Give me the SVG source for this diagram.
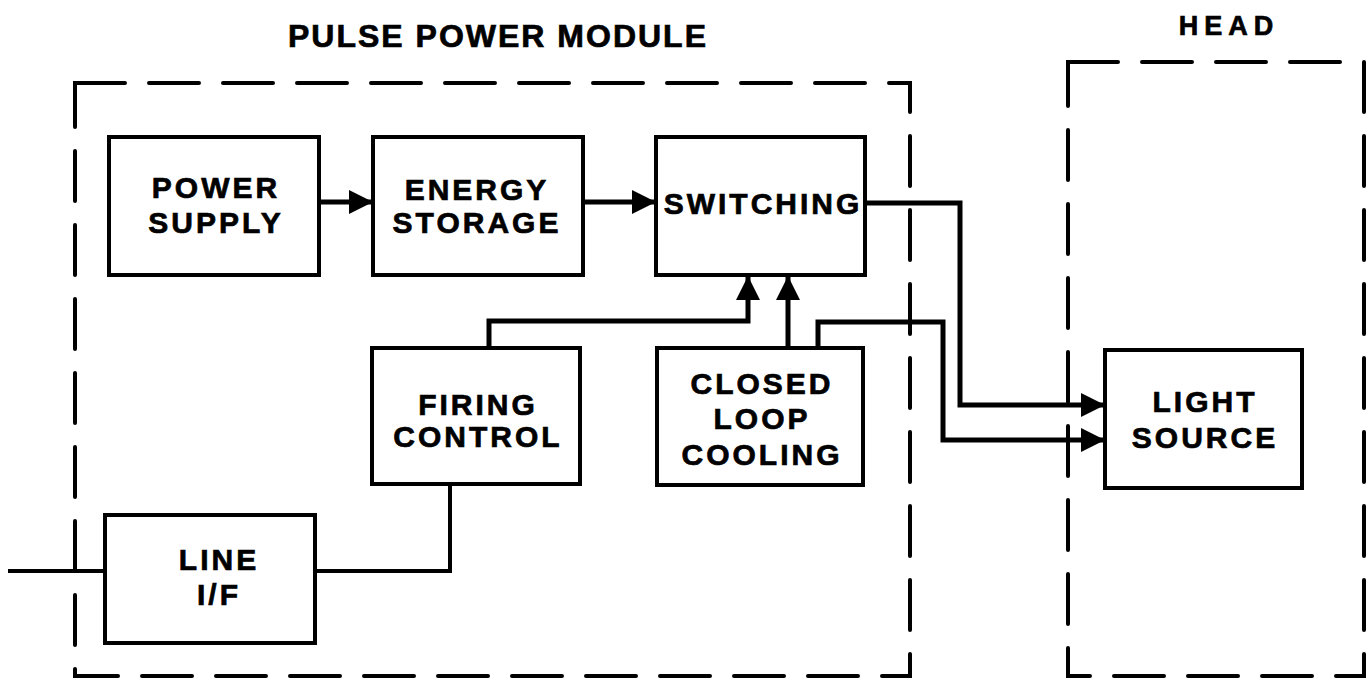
<svg xmlns="http://www.w3.org/2000/svg" width="1370" height="679" viewBox="0 0 1370 679">
<style>
  .box { fill: #fff; stroke: #000; stroke-width: 4; }
  .grp { fill: none; stroke: #000; stroke-width: 4; stroke-dasharray: 50 24; stroke-linecap: round; }
  .lbl { font-family: "Liberation Sans", Arial, sans-serif; font-weight: bold; font-size: 30px; letter-spacing: 3px; fill: #000; stroke: #000; stroke-width: 0.7; text-anchor: middle; }
  .title { font-family: "Liberation Sans", Arial, sans-serif; font-weight: bold; fill: #000; stroke: #000; stroke-width: 0.7; }
  .wire { fill: none; stroke: #000; stroke-width: 5; stroke-linejoin: miter; }
  .thin { fill: none; stroke: #000; stroke-width: 4; }
</style>
<defs>
  <marker id="ah" markerUnits="userSpaceOnUse" markerWidth="26" markerHeight="24" refX="24" refY="12" orient="auto">
    <path d="M0,0 L24,12 L0,24 z" fill="#000"/>
  </marker>
</defs>
<rect width="1370" height="679" fill="#fff"/>

<g id="pulse-power-module">
  <rect class="grp" x="75" y="83" width="835" height="593"/>
  <text class="title" x="498" y="47" font-size="32" letter-spacing="2" text-anchor="middle">PULSE POWER MODULE</text>
</g>
<g id="head">
  <rect class="grp" x="1068" y="62" width="296" height="614"/>
  <text class="title" x="1229" y="35" font-size="27" letter-spacing="6" text-anchor="middle">HEAD</text>
</g>

<g id="connectors">
  <line class="wire" x1="319" y1="202" x2="373" y2="202" marker-end="url(#ah)"/>
  <line class="wire" x1="583" y1="202" x2="656" y2="202" marker-end="url(#ah)"/>
  <polyline class="wire" points="865,203 960,203 960,405 1105,405" marker-end="url(#ah)"/>
  <polyline class="wire" points="818,348 818,322 943,322 943,440 1105,440" marker-end="url(#ah)"/>
  <polyline class="wire" points="489,348 489,321 748,321 748,276" marker-end="url(#ah)"/>
  <line class="wire" x1="788" y1="348" x2="788" y2="276" marker-end="url(#ah)"/>
  <polyline class="thin" points="315,571 450,571 450,484"/>
  <line class="thin" x1="8" y1="571" x2="105" y2="571"/>
</g>

<g id="power-supply">
  <rect class="box" x="109" y="137" width="210" height="138"/>
  <text class="lbl" x="216" y="198">POWER</text>
  <text class="lbl" x="216" y="233">SUPPLY</text>
</g>
<g id="energy-storage">
  <rect class="box" x="373" y="137" width="210" height="138"/>
  <text class="lbl" x="477" y="200">ENERGY</text>
  <text class="lbl" x="477" y="233">STORAGE</text>
</g>
<g id="switching">
  <rect class="box" x="656" y="137" width="209" height="138"/>
  <text class="lbl" x="763" y="214" font-size="31">SWITCHING</text>
</g>
<g id="firing-control">
  <rect class="box" x="372" y="348" width="208" height="136"/>
  <text class="lbl" x="478" y="415">FIRING</text>
  <text class="lbl" x="478" y="447">CONTROL</text>
</g>
<g id="closed-loop-cooling">
  <rect class="box" x="657" y="348" width="206" height="137"/>
  <text class="lbl" x="762" y="394">CLOSED</text>
  <text class="lbl" x="762" y="429">LOOP</text>
  <text class="lbl" x="762" y="465">COOLING</text>
</g>
<g id="line-if">
  <rect class="box" x="105" y="515" width="210" height="128"/>
  <text class="lbl" x="219" y="570">LINE</text>
  <text class="lbl" x="219" y="605">I/F</text>
</g>
<g id="light-source">
  <rect class="box" x="1105" y="350" width="197" height="138"/>
  <text class="lbl" x="1205" y="412">LIGHT</text>
  <text class="lbl" x="1205" y="448">SOURCE</text>
</g>
</svg>
